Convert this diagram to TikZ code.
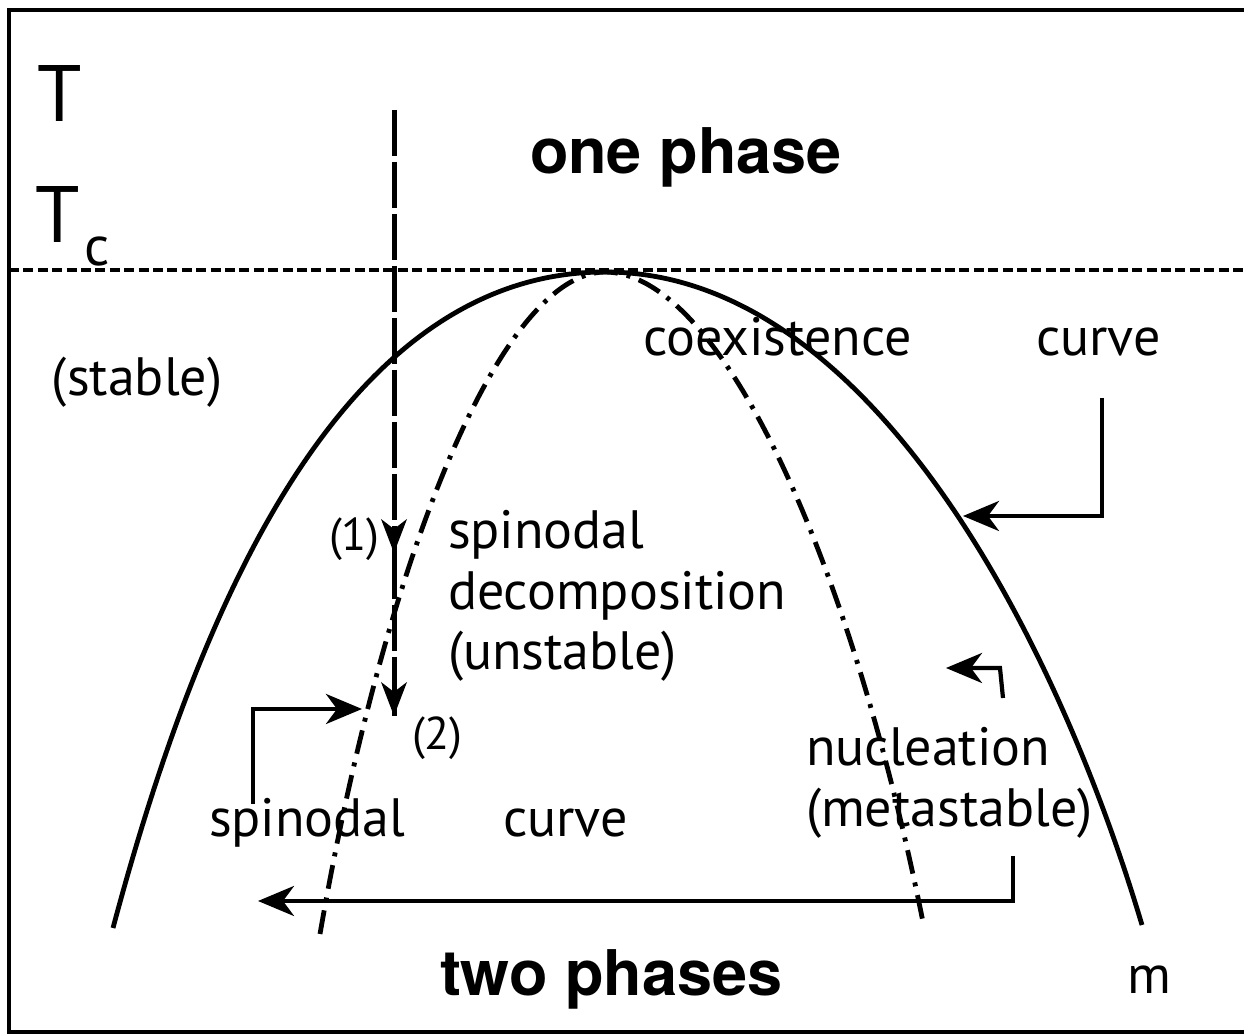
\documentclass[tikz,border=0pt]{standalone}
\usepackage{fontspec}
\setmainfont{PT Sans}
\newfontfamily\headfont{TeX Gyre Heros}
\usetikzlibrary{arrows.meta}
\tikzset{
  lbl/.style={inner sep=0pt, outer sep=0pt, anchor=base west, font=\fontsize{27}{30}\selectfont},
  smalllbl/.style={lbl, font=\fontsize{23}{26}\selectfont},
  biglbl/.style={inner sep=0pt, outer sep=0pt, anchor=base west, font=\headfont\bfseries\fontsize{31.5}{36}\selectfont},
  axislbl/.style={inner sep=0pt, outer sep=0pt, anchor=base west, font=\fontsize{40}{44}\selectfont},
  arr/.style={line width=2.1pt, -{Stealth[length=18pt,width=15pt,inset=5.5pt]}},
  coexline/.style={line width=2.4pt},
  spinline/.style={line width=2.4pt, dash pattern=on 12pt off 4.5pt on 2pt off 4.5pt},
  quenchline/.style={line width=2.5pt, dash pattern=on 23pt off 3pt},
  tcline/.style={line width=2.1pt, dash pattern=on 5pt off 2.2pt},
  framel/.style={line width=2.4pt},
}
\begin{document}
\begin{tikzpicture}[x=0.5pt,y=-0.5pt]
\useasboundingbox (0,0) rectangle (1244,1036);
% frame
\draw[framel] (1260,10) -- (9,10) -- (9,1032) -- (1260,1032);
% Tc line
\coordinate (tcl) at (9,270);
\coordinate (tcr) at (1260,270);
\draw[tcline] (tcl) -- (tcr);
% coexistence curve
\coordinate (cl) at (113,928);
\coordinate (apex) at (605,272);
\coordinate (cr) at (1142,925);
\draw[coexline] (cl) .. controls (190,640) and (330,272) .. (apex)
  .. controls (870,272) and (1057,640) .. (cr);
% spinodal curve
\coordinate (sl) at (320,934);
\coordinate (sr) at (923,922);
\draw[spinline] (sl) .. controls (385,560) and (500,273) .. (apex)
  .. controls (722,273) and (850,560) .. (sr);
% quench line
\coordinate (qtop) at (394,110);
\coordinate (q1) at (394,553);
\coordinate (q2) at (394,716);
\draw[quenchline] (qtop) -- (q1);
\draw[quenchline] (q1) -- (q2);
\fill (q1) -- ++(-13,-34) -- ++(13,10) -- ++(13,-10) -- cycle;
\fill (q2) -- ++(-13,-34) -- ++(13,10) -- ++(13,-10) -- cycle;
% labels
\node[axislbl] (T) at (37,122) {T};
\node[axislbl] (Tc) at (35,243) {T};
\node[lbl, font=\fontsize{28}{30}\selectfont] (csub) at (84,266) {c};
\node[biglbl] (one) at (530,174) {one phase};
\node[biglbl] (two) at (440,996) {two phases};
\node[lbl] (stable) at (52,396) {(stable)};
\node[lbl] (coex) at (643,356) {coexistence};
\node[lbl] (curveA) at (1036,356) {curve};
\node[lbl] (sp1) at (448,549) {spinodal};
\node[lbl] (sp2) at (448,610) {decomposition};
\node[lbl] (sp3) at (448,670) {(unstable)};
\node[smalllbl] (n1) at (329,551) {(1)};
\node[smalllbl] (n2) at (412,750) {(2)};
\node[lbl] (spinlbl) at (209,837) {spinodal};
\node[lbl] (curveB) at (503,837) {curve};
\node[lbl] (nuc1) at (806,766) {nucleation};
\node[lbl] (nuc2) at (806,827) {(metastable)};
\node[lbl] (m) at (1127,994) {m};
% pointer arrows
\coordinate (a1s) at (1102,398);
\coordinate (a1t) at (963,516);
\draw[arr] (a1s) |- (a1t);
\coordinate (a2s) at (1003,698);
\coordinate (a2c) at (1000,668);
\coordinate (a2t) at (946,668);
\draw[arr] (a2s) -- (a2c) -- (a2t);
\coordinate (a3s) at (253,804);
\coordinate (a3t) at (362,709);
\draw[arr] (a3s) |- (a3t);
\coordinate (a4s) at (1013,856);
\coordinate (a4t) at (258,901);
\draw[arr] (a4s) |- (a4t);
\end{tikzpicture}
\end{document}
